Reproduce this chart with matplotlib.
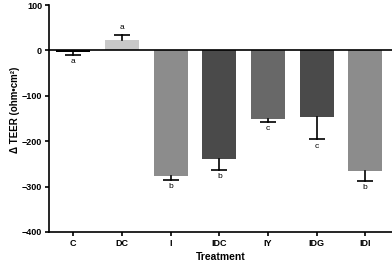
import matplotlib
matplotlib.use("Agg")
import matplotlib.pyplot as plt

# Data
treatments = ['C', 'DC', 'I', 'IDC', 'IY', 'IDG', 'IDI']
teer = [-3, 23, -276, -240, -152, -147, -265]
sem = [6, 12, 10, 24, 6, 49, 23]
letters = ['a', 'a', 'b', 'b', 'c', 'c', 'b']
colors = ['#000000', '#c8c8c8', '#8c8c8c', '#4a4a4a', '#686868', '#4a4a4a', '#8c8c8c']

plt.rcParams['font.family'] = ['Liberation Sans', 'DejaVu Sans']


def plot_teer():
    fig = plt.figure(figsize=(3.92, 2.70), dpi=100)
    ax = fig.add_axes([0.125, 0.141, 0.875, 0.84])

    x = list(range(len(treatments)))
    ax.bar(x, teer, width=0.7, color=colors, edgecolor='none', zorder=2)

    # one-sided error bars, away from zero, cap only at the far end
    for xi, v, e, lab in zip(x, teer, sem, letters):
        end = v + e if v >= 0 else v - e
        ax.plot([xi, xi], [v, end], color='black', lw=1.2, zorder=3)
        ax.plot([xi], [end], marker='_', markersize=12, mew=1.2,
                color='black', zorder=3)
        if v >= 0:
            ax.text(xi, end + 7, lab, ha='center', va='bottom', fontsize=6)
        else:
            ax.text(xi, end - 7, lab, ha='center', va='top', fontsize=6)

    ax.axhline(0, color='black', lw=1.2, zorder=4)

    ax.set_ylim(-400, 100)
    ax.set_xlim(-0.5, 6.55)
    ax.set_yticks([-400, -300, -200, -100, 0, 100])
    ax.set_xticks(x)
    ax.set_xticklabels(treatments, fontweight='bold', fontsize=6.5)
    for lbl in ax.get_yticklabels():
        lbl.set_fontweight('bold')
        lbl.set_fontsize(6.5)
    ax.tick_params(direction='out', length=3, width=1.2, pad=2)

    ax.spines['top'].set_visible(False)
    ax.spines['right'].set_visible(False)
    ax.spines['left'].set_linewidth(1.2)
    ax.spines['bottom'].set_linewidth(1.2)

    ax.set_xlabel('Treatment', fontweight='bold', fontsize=7.5, labelpad=3)
    ax.set_ylabel('\u0394 TEER (ohm\u2022cm\u00b2)', fontweight='bold', fontsize=7)
    ax.yaxis.set_label_coords(-0.085, 0.54)

    fig.savefig('out.png', dpi=100)


if __name__ == "__main__":
    plot_teer()
